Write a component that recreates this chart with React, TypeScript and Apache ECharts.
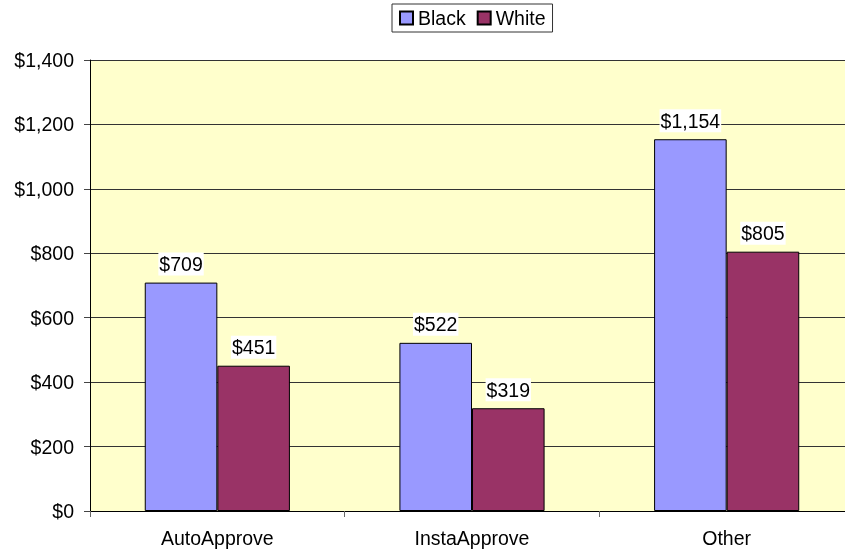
import React, { useEffect, useRef } from "react";
import * as echarts from "echarts";

const categories = ["AutoApprove", "InstaApprove", "Other"];
const blackValues = [709, 522, 1154];
const whiteValues = [451, 319, 805];
const seriesNames = ["Black", "White"];
const yMin = 0;
const yMax = 1400;
const yInterval = 200;

const FONT = "'Liberation Sans', Arial, sans-serif";
const FS = 19.5;

const money = (v: number) => "$" + v.toLocaleString("en-US");

export default function App() {
  const ref = useRef<HTMLDivElement>(null);
  useEffect(() => {
    if (!ref.current) return;
    const chart = echarts.init(ref.current, null, { renderer: "svg" });
    const label = {
      show: true,
      position: "top" as const,
      distance: 7,
      color: "#000",
      fontFamily: FONT,
      fontSize: FS,
      lineHeight: 21,
      backgroundColor: "#fff",
      padding: [1, 1],
      formatter: (p: any) => money(p.value),
    };
    chart.setOption({
      animation: false,
      textStyle: { fontFamily: FONT },
      legend: {
        data: seriesNames,
        left: 392,
        top: 4,
        padding: [4, 7],
        icon: "rect",
        itemWidth: 13,
        itemHeight: 13,
        itemGap: 11,
        borderColor: "#333",
        borderWidth: 1,
        textStyle: { color: "#000", fontSize: FS, fontFamily: FONT },
      },
      grid: {
        left: 90,
        top: 60,
        width: 764,
        height: 451,
        show: true,
        backgroundColor: "#FFFFCC",
        borderWidth: 0,
        containLabel: false,
        outerBoundsMode: "none",
      },
      xAxis: {
        type: "category",
        data: categories,
        axisLine: { lineStyle: { color: "#000", width: 1 } },
        axisTick: { show: true, length: 6, lineStyle: { color: "#666" } },
        axisLabel: { color: "#000", fontSize: FS, fontFamily: FONT, margin: 17 },
      },
      yAxis: {
        type: "value",
        min: yMin,
        max: yMax,
        interval: yInterval,
        axisLine: { show: true, lineStyle: { color: "#000", width: 1 } },
        axisTick: { show: true, length: 6, lineStyle: { color: "#444" } },
        splitLine: { show: true, lineStyle: { color: "#333", width: 1 } },
        axisLabel: {
          color: "#000",
          fontSize: FS,
          fontFamily: FONT,
          margin: 16,
          formatter: (v: number) => money(v),
        },
      },
      series: [
        {
          name: seriesNames[0],
          type: "bar",
          data: blackValues,
          barGap: "0%",
          barCategoryGap: "43%",
          itemStyle: { color: "#9999FF", borderColor: "#000", borderWidth: 1 },
          label,
        },
        {
          name: seriesNames[1],
          type: "bar",
          data: whiteValues,
          barGap: "0%",
          barCategoryGap: "43%",
          itemStyle: { color: "#993366", borderColor: "#000", borderWidth: 1 },
          label,
        },
      ],
    });
    return () => chart.dispose();
  }, []);
  return (
    <div
      ref={ref}
      style={{ position: "fixed", left: 0, top: 0, width: 845, height: 557, overflow: "hidden" }}
    />
  );
}
